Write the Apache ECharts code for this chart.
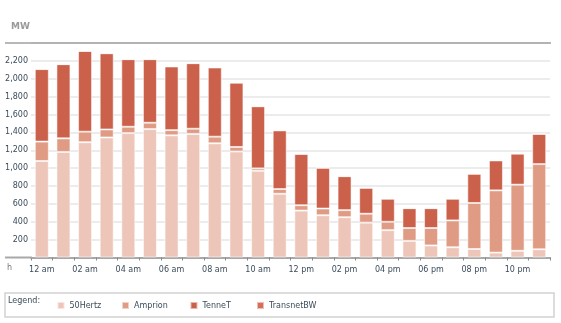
<!DOCTYPE html>
<html>
<head>
<meta charset="utf-8">
<script src="https://cdn.jsdelivr.net/npm/echarts@6/dist/echarts.min.js"></script>
<style>html,body{margin:0;padding:0;background:#fff;}#c{width:561px;height:323px;}</style>
</head>
<body>
<div id="c"></div>
<script>
const hours = ["12 am","01 am","02 am","03 am","04 am","05 am","06 am","07 am","08 am","09 am","10 am","11 am",
               "12 pm","01 pm","02 pm","03 pm","04 pm","05 pm","06 pm","07 pm","08 pm","09 pm","10 pm","11 pm"];
const hertz50 = [1080,1181,1290,1343,1392,1437,1367,1383,1278,1186,970,713,525,473,451,390,306,186,135,115,95,55,75,92];
const amprion = [217,152,118,90,71,71,58,58,74,51,27,53,60,75,79,100,94,144,195,300,515,696,740,953];
const tennet  = [811,830,903,852,756,711,712,733,774,719,695,656,574,456,380,290,258,222,222,243,327,335,347,338];
const transnetBW = [0,0,0,0,0,0,0,0,0,0,0,0,0,0,0,0,0,0,0,0,0,0,0,0];
const seriesNames = ['50Hertz','Amprion','TenneT','TransnetBW'];
const yTicks = {min:0, max:2400, interval:200};

const FONT = 'DejaVu Sans';
const TXT = '#3a4b5a';
const chart = echarts.init(document.getElementById('c'), null, {renderer:'canvas'});
function bar(name, data, color){
  return {name, type:'bar', stack:'t', data, barWidth:14,
    itemStyle:{color, borderColor:'rgba(255,255,255,0.55)', borderWidth:1},
    emphasis:{disabled:true}};
}
const legendLefts = [51.5, 116, 184.5, 251];
chart.setOption({
  animation:false,
  grid:{left:31, right:11, top:43, bottom:65.5},
  title:{text:'MW', left:6, top:17, textStyle:{fontFamily:FONT, fontSize:9, fontWeight:'bold', color:'#9a9a9a'}},
  legend: seriesNames.map((n,i)=>({left:legendLefts[i], top:296, itemWidth:7, itemHeight:7, icon:'rect',
    selectedMode:false, textStyle:{fontFamily:FONT, fontSize:8, color:TXT}, data:[n]})),
  xAxis:{type:'category', data:hours,
    axisLine:{lineStyle:{color:'#a8a8a8', width:2}},
    axisTick:{show:true, length:3, interval:0, lineStyle:{color:'#8a8a8a'}},
    axisLabel:{interval:1, margin:8, fontFamily:FONT, fontSize:8, color:TXT}},
  yAxis:{type:'value', min:yTicks.min, max:yTicks.max, interval:yTicks.interval,
    axisLine:{show:false}, axisTick:{show:false},
    splitLine:{lineStyle:{color:'#e6e6e6', width:1.5}},
    axisLabel:{showMinLabel:false, showMaxLabel:false, margin:3, fontFamily:FONT, fontSize:8, color:TXT,
      formatter:v=>v.toLocaleString('en-US')}},
  graphic:[
    {type:'rect', z:100, shape:{x:5, y:42.2, width:546, height:1.6}, style:{fill:'#a0a0a0'}, silent:true},
    {type:'rect', z:100, shape:{x:5, y:256.5, width:27, height:2}, style:{fill:'#a8a8a8'}, silent:true},
    {type:'text', left:7, top:264, style:{text:'h', fontFamily:FONT, fontSize:8, fill:'#777'}},
    {type:'rect', shape:{x:5, y:293, width:549, height:24}, style:{fill:'none', stroke:'#d2d2d2', lineWidth:1.5}, silent:true},
    {type:'text', left:8, top:297, style:{text:'Legend:', fontFamily:FONT, fontSize:8, fill:TXT}}
  ],
  series:[
    bar('50Hertz', hertz50, '#eec6b9'),
    bar('Amprion', amprion, '#e09b84'),
    bar('TenneT', tennet, '#cb614a'),
    bar('TransnetBW', transnetBW, '#d4705a')
  ]
});
</script>
</body>
</html>
